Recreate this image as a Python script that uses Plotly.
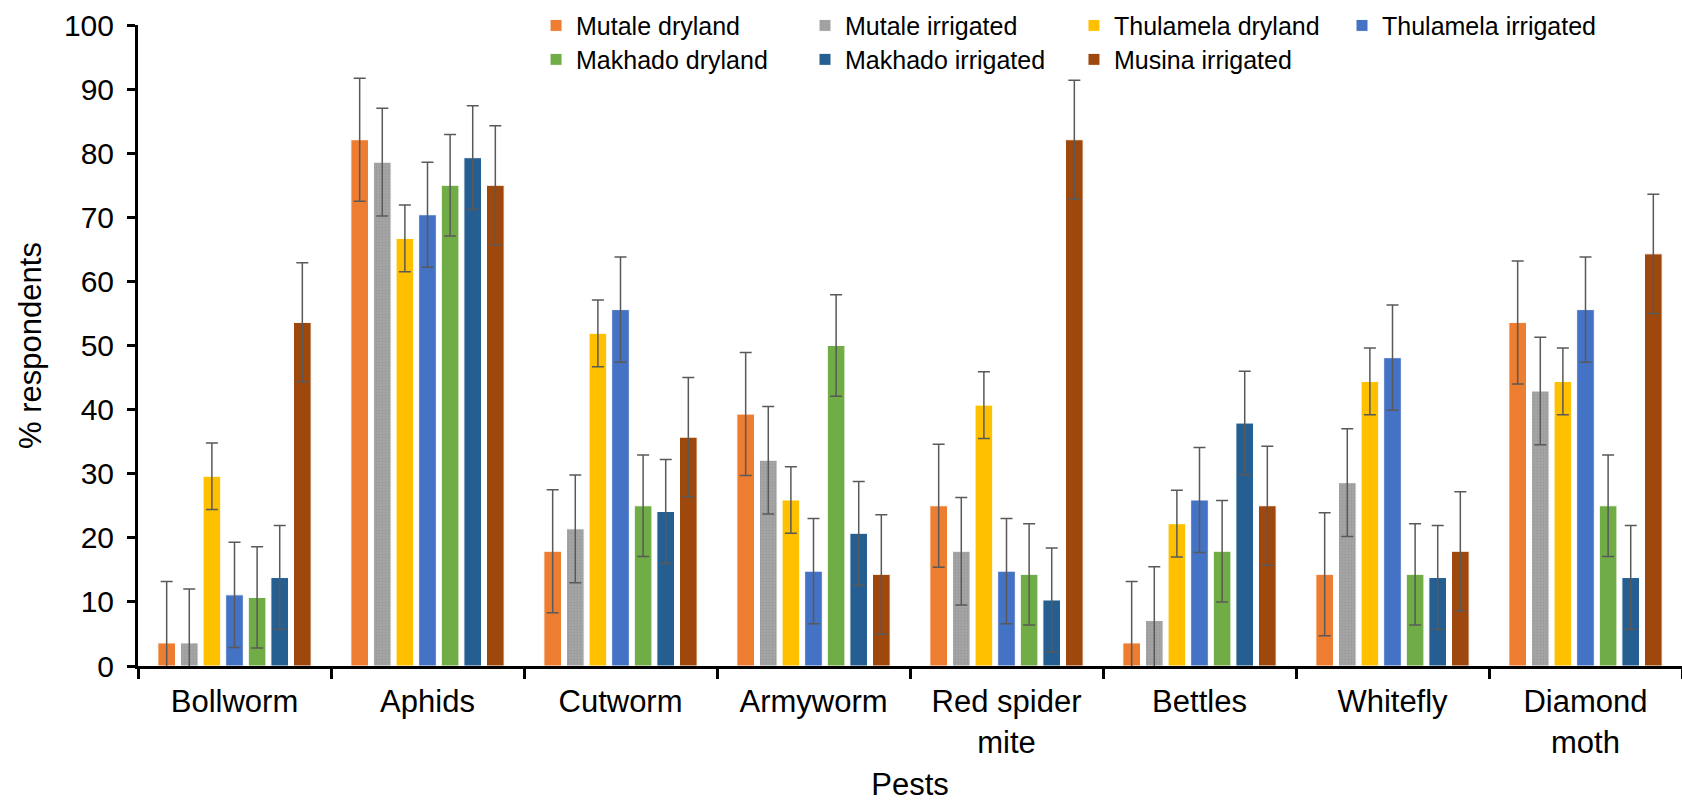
import plotly.graph_objects as go

pests = ["Bollworm", "Aphids", "Cutworm", "Armyworm", "Red spider<br>mite", "Bettles", "Whitefly", "Diamond<br>moth"]

mutale_dryland = [3.6, 82.1, 17.9, 39.3, 25.0, 3.6, 14.3, 53.6]
mutale_irrigated = [3.6, 78.6, 21.4, 32.1, 17.9, 7.1, 28.6, 42.9]
thulamela_dryland = [29.6, 66.7, 51.9, 25.9, 40.7, 22.2, 44.4, 44.4]
thulamela_irrigated = [11.1, 70.4, 55.6, 14.8, 14.8, 25.9, 48.1, 55.6]
makhado_dryland = [10.7, 75.0, 25.0, 50.0, 14.3, 17.9, 14.3, 25.0]
makhado_irrigated = [13.8, 79.3, 24.1, 20.7, 10.3, 37.9, 13.8, 13.8]
musina_irrigated = [53.6, 75.0, 35.7, 14.3, 82.1, 25.0, 17.9, 64.3]

err_mutale_dryland = [9.6] * 8
err_mutale_irrigated = [8.4] * 8
err_thulamela_dryland = [5.2] * 8
err_thulamela_irrigated = [8.2] * 8
err_makhado_dryland = [7.9] * 8
err_makhado_irrigated = [8.1] * 8
err_musina_irrigated = [9.3] * 8

series = [
    ("Mutale dryland", mutale_dryland, err_mutale_dryland, "#ED7D31"),
    ("Mutale irrigated", mutale_irrigated, err_mutale_irrigated, "#A5A5A5"),
    ("Thulamela dryland", thulamela_dryland, err_thulamela_dryland, "#FFC000"),
    ("Thulamela irrigated", thulamela_irrigated, err_thulamela_irrigated, "#4472C4"),
    ("Makhado dryland", makhado_dryland, err_makhado_dryland, "#70AD47"),
    ("Makhado irrigated", makhado_irrigated, err_makhado_irrigated, "#255E91"),
    ("Musina irrigated", musina_irrigated, err_musina_irrigated, "#9E480E"),
]

FONT = "Liberation Sans, Arial, sans-serif"

# legend grid: 4 columns x 2 rows (paper coordinates)
legend_cols = [0.2578, 0.4320, 0.6062, 0.7798]
legend_rows = [0.999, 0.946]

fig = go.Figure()
legend_layout = {}
for i, (name, vals, errs, color) in enumerate(series):
    marker = dict(color=color, line=dict(color="white", width=1))
    if name == "Mutale irrigated":
        marker["pattern"] = dict(shape=".", size=3, solidity=0.3, fgcolor="#8c8c8c", bgcolor=color)
    key = "legend" if i == 0 else f"legend{i + 1}"
    fig.add_trace(go.Bar(
        name=name, x=pests, y=vals,
        marker=marker, legend=key,
        error_y=dict(type="data", array=errs, visible=True, color="#595959", thickness=1.5, width=6),
    ))
    legend_layout[key] = dict(
        orientation="h", x=legend_cols[i % 4], y=legend_rows[i // 4],
        xanchor="left", yanchor="middle",
        font=dict(size=25, family=FONT), bgcolor="rgba(0,0,0,0)",
        borderwidth=0, itemclick=False, itemdoubleclick=False,
    )

fig.update_layout(
    width=1682, height=802,
    margin=dict(l=138, r=0, t=25, b=136),
    paper_bgcolor="white", plot_bgcolor="white",
    barmode="group", bargap=0.18, bargroupgap=0.22,
    font=dict(family=FONT, size=30, color="black"),
    showlegend=True,
    **legend_layout,
)
fig.update_xaxes(
    title=dict(text="Pests", font=dict(size=31), standoff=18),
    showline=True, linecolor="black", linewidth=3,
    ticks="outside", tickson="boundaries", ticklen=10, tickwidth=3, tickcolor="black",
    range=[-0.5, 7.5], tickfont=dict(size=31), ticklabelstandoff=6,
)
fig.update_yaxes(
    title=dict(text="% respondents", font=dict(size=31), standoff=14),
    range=[0, 100], dtick=10, showgrid=False, zeroline=False,
    showline=True, linecolor="black", linewidth=3,
    ticks="outside", ticklen=8, tickwidth=3, tickcolor="black",
    tickfont=dict(size=30), ticklabelstandoff=7,
)

fig.write_html("out.html")
